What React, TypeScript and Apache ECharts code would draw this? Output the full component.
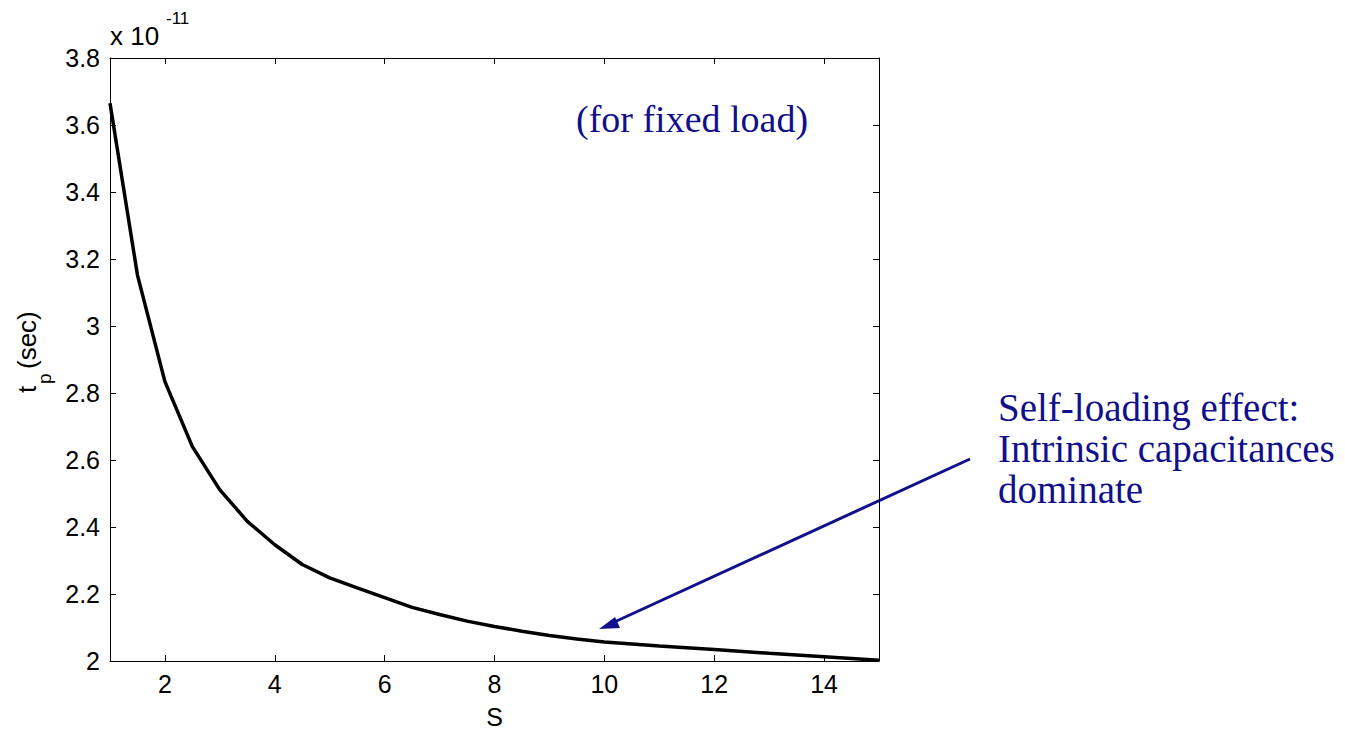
import React, { useEffect, useRef } from "react";
import * as echarts from "echarts";

// Device sizing S and propagation delay t_p (units of 1e-11 s)
const S_VALUES = [1, 1.5, 2, 2.5, 3, 3.5, 4, 4.5, 5, 5.5, 6, 6.5, 7, 7.5, 8, 8.5, 9, 9.5, 10, 11, 12, 13, 14, 15];
const TP_VALUES = [3.665, 3.152, 2.834, 2.640, 2.511, 2.417, 2.347, 2.288, 2.248, 2.218, 2.189, 2.160, 2.139, 2.119, 2.103, 2.089, 2.076, 2.066, 2.057, 2.045, 2.034, 2.023, 2.013, 2.002];
const X_TICKS = [2, 4, 6, 8, 10, 12, 14];
const Y_MIN = 2;
const Y_MAX = 3.8;
const Y_STEP = 0.2;
const X_MIN = 1;
const X_MAX = 15;

const NAVY = "#10108c";
const SANS = "'Liberation Sans', Arial, sans-serif";
const SERIF = "'Liberation Serif', 'Times New Roman', serif";

export default function App() {
  const ref = useRef<HTMLDivElement>(null);
  useEffect(() => {
    if (!ref.current) return;
    const chart = echarts.init(ref.current, undefined, { renderer: "svg" });
    const axisLine = { show: true, lineStyle: { color: "#000", width: 1 } };
    const labelStyle = { color: "#000", fontSize: 25, fontFamily: SANS };
    chart.setOption({
      animation: false,
      backgroundColor: "#fff",
      grid: { left: 110, top: 58, width: 769, height: 603, containLabel: false, outerBoundsMode: "none" },
      xAxis: [
        {
          type: "value",
          min: X_MIN,
          max: X_MAX,
          position: "bottom",
          axisLine,
          axisTick: { show: true, inside: true, length: 6, customValues: X_TICKS, lineStyle: { color: "#000" } },
          axisLabel: { ...labelStyle, margin: 10, customValues: X_TICKS },
          splitLine: { show: false },
          name: "S",
          nameLocation: "middle",
          nameGap: 43,
          nameTextStyle: { color: "#000", fontSize: 25, fontFamily: SANS },
        },
        {
          type: "value",
          min: X_MIN,
          max: X_MAX,
          position: "top",
          axisLine,
          axisTick: { show: true, inside: true, length: 6, customValues: X_TICKS, lineStyle: { color: "#000" } },
          axisLabel: { show: false },
          splitLine: { show: false },
        },
      ],
      yAxis: [
        {
          type: "value",
          min: Y_MIN,
          max: Y_MAX,
          interval: Y_STEP,
          position: "left",
          axisLine,
          axisTick: { show: true, inside: true, length: 6, lineStyle: { color: "#000" } },
          axisLabel: {
            ...labelStyle,
            margin: 10,
            formatter: (v: number) => String(+v.toFixed(1)),
          },
          splitLine: { show: false },
        },
        {
          type: "value",
          min: Y_MIN,
          max: Y_MAX,
          interval: Y_STEP,
          position: "right",
          axisLine,
          axisTick: { show: true, inside: true, length: 6, lineStyle: { color: "#000" } },
          axisLabel: { show: false },
          splitLine: { show: false },
        },
      ],
      series: [
        {
          type: "line",
          xAxisIndex: 0,
          yAxisIndex: 0,
          data: S_VALUES.map((s, i) => [s, TP_VALUES[i]]),
          showSymbol: false,
          symbol: "none",
          lineStyle: { color: "#000", width: 3.5 },
          z: 3,
        },
      ],
      graphic: [
        { type: "text", x: 110, y: 36, style: { text: "x 10", font: `26px ${SANS}`, fill: "#000", textVerticalAlign: "middle" } },
        { type: "text", x: 166, y: 18, style: { text: "-11", font: `17px ${SANS}`, fill: "#000", textVerticalAlign: "middle" } },
        { type: "text", x: 27, y: 393, rotation: Math.PI / 2, style: { text: "t", font: `26px ${SANS}`, fill: "#000", textAlign: "left", textVerticalAlign: "middle" } },
        { type: "text", x: 44, y: 384, rotation: Math.PI / 2, style: { text: "p", font: `19px ${SANS}`, fill: "#000", textAlign: "left", textVerticalAlign: "middle" } },
        { type: "text", x: 27, y: 369, rotation: Math.PI / 2, style: { text: "(sec)", font: `26px ${SANS}`, fill: "#000", textAlign: "left", textVerticalAlign: "middle" } },
        { type: "text", x: 576, y: 119, style: { text: "(for fixed load)", font: `38px ${SERIF}`, fill: NAVY, textVerticalAlign: "middle" } },
        { type: "text", x: 998, y: 407, style: { text: "Self-loading effect:", font: `39px ${SERIF}`, fill: NAVY, textVerticalAlign: "middle" } },
        { type: "text", x: 998, y: 448, style: { text: "Intrinsic capacitances", font: `39px ${SERIF}`, fill: NAVY, textVerticalAlign: "middle" } },
        { type: "text", x: 998, y: 489, style: { text: "dominate", font: `39px ${SERIF}`, fill: NAVY, textVerticalAlign: "middle" } },
        { type: "line", shape: { x1: 970, y1: 459, x2: 610, y2: 624 }, style: { stroke: NAVY, lineWidth: 3 } },
        { type: "polygon", shape: { points: [[599, 629], [615, 617], [620, 628]] }, style: { fill: NAVY } },
      ],
    });
    return () => chart.dispose();
  }, []);
  return <div ref={ref} style={{ position: "fixed", left: 0, top: 0, width: 1345, height: 729 }} />;
}
